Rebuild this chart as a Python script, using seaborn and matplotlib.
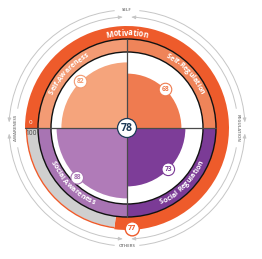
import numpy as np
import matplotlib
matplotlib.use("Agg")
import matplotlib.pyplot as plt
import seaborn as sns
from matplotlib.patches import Wedge, Circle, Arc
from matplotlib.font_manager import FontProperties, findfont
from matplotlib.ft2font import FT2Font

# ---------------- data ----------------
quadrants = ["Self-Awareness", "Self-Regulation", "Social Awareness", "Social Regulation"]
scores = [82, 68, 88, 73]
overall_score = 78
motivation_label = "Motivation"
motivation_score = 77
gauge_min_label = "0"
gauge_max_label = "100"
axis_labels = ["SELF", "REGULATION", "OTHERS", "AWARENESS"]

# ---------------- style ----------------
sns.set_theme(style="white")
plt.rcParams["font.family"] = ["Open Sans", "DejaVu Sans"]

wedge_colors = ["#F5A47C", "#EF7B50", "#B07BB8", "#7D3D98"]
band_colors = ["#F39B74", "#EF8459", "#A874B3", "#7B3B96"]
badge_text_colors = ["#F29A72", "#EE7A4E", "#A874B3", "#7B3B96"]
orange = "#EE5B2B"
grey = "#CFCFCF"
navy = "#1E3A56"
linec = "#4A4A4A"

W, H = 262, 259
DPI = 100
fig = plt.figure(figsize=(W / DPI, H / DPI), dpi=DPI)
ax = fig.add_axes([0, 0, 1, 1])
ax.set_xlim(0, W)
ax.set_ylim(0, H)
ax.set_aspect("equal")
ax.axis("off")

cx, cy = 127, 131
k = 0.8            # px per score point for inner wedges
r_ring_out, r_ring_in = 102, 89
r_band_in = 76

# gauge ring: starts at 9 o'clock, clockwise
end_angle = 180 - motivation_score * 3.6
ax.add_patch(Wedge((cx, cy), r_ring_out, end_angle, 180, width=r_ring_out - r_ring_in,
                   facecolor=orange, edgecolor="none"))
ax.add_patch(Wedge((cx, cy), r_ring_out - 2, 180, end_angle + 360,
                   width=r_ring_out - 2 - r_ring_in, facecolor=grey, edgecolor="none"))
ax.add_patch(Arc((cx, cy), 2 * (r_ring_out - 1.5), 2 * (r_ring_out - 1.5),
                 theta1=180, theta2=end_angle + 360, color=orange, lw=1.0))

# quadrant bands and wedges
spans = [(90, 180), (0, 90), (180, 270), (270, 360)]
for (t1, t2), bc, wc, s in zip(spans, band_colors, wedge_colors, scores):
    ax.add_patch(Wedge((cx, cy), r_ring_in, t1, t2, width=r_ring_in - r_band_in,
                       facecolor=bc, edgecolor="none"))
    ax.add_patch(Wedge((cx, cy), r_band_in, t1, t2, facecolor="white", edgecolor="none"))
    ax.add_patch(Wedge((cx, cy), s * k, t1, t2, facecolor=wc, edgecolor="none"))

for r in (r_ring_in, r_band_in):
    ax.add_patch(Circle((cx, cy), r, fill=False, edgecolor="#111111", lw=1.0))

# cross lines
ax.plot([cx - r_ring_out, cx + r_ring_in], [cy, cy], color=linec, lw=0.9, zorder=3)
ax.plot([cx, cx], [cy - r_ring_in, cy + r_ring_in], color=linec, lw=0.9, zorder=3)


# ---------------- curved text ----------------
def advances(text, fp):
    font = FT2Font(findfont(fp))
    font.set_size(fp.get_size_in_points(), DPI)
    out = []
    for ch in text:
        g = font.load_char(ord(ch))
        out.append(g.linearHoriAdvance / 65536.0)
    return out


def curved_text(text, r, center_deg, size, color, top=True, weight="bold", track=1.0):
    fp = FontProperties(family="Open Sans", weight=weight, size=size)
    widths = [w * track for w in advances(text, fp)]
    total = sum(widths) / r  # radians
    c = np.radians(center_deg)
    pos = 0.0
    for ch, w in zip(text, widths):
        mid = pos + w / 2
        if ch != " ":
            if top:
                a = c + total / 2 - mid / r
                rot = np.degrees(a) - 90
            else:
                a = c - total / 2 + mid / r
                rot = np.degrees(a) + 90
            ax.text(cx + r * np.cos(a), cy + r * np.sin(a), ch, rotation=rot,
                    rotation_mode="anchor", ha="center", va="center",
                    fontproperties=fp, color=color, zorder=6)
        pos += w


curved_text(motivation_label, (r_ring_out + r_ring_in) / 2 - 0.5, 90, 5.6, "white", top=True)
band_r = (r_ring_in + r_band_in) / 2
label_angles = [137, 43, 225, 315]
for lab, ang in zip(quadrants, label_angles):
    curved_text(lab, band_r - (0 if ang < 180 else 0.5), ang, 5.1, "white",
                top=ang < 180)

# gauge end labels
ax.text(cx - 97, cy + 5.5, gauge_min_label, color="white", fontsize=4.5,
        ha="center", va="center", zorder=6)
ax.text(cx - 96, cy - 5.5, gauge_max_label, color="#444444", fontsize=4.8,
        ha="center", va="center", zorder=6)

# value badges
for s, (t1, t2), tc in zip(scores, spans, badge_text_colors):
    a = np.radians((t1 + t2) / 2)
    x, y = cx + s * k * np.cos(a), cy + s * k * np.sin(a)
    ax.add_patch(Circle((x, y), 6.3, facecolor="white", edgecolor=tc, lw=0.8, zorder=7))
    ax.text(x, y, str(s), color=tc, fontsize=4.8, fontweight="bold",
            ha="center", va="center", zorder=8)

# overall badge
ax.add_patch(Circle((cx, cy), 9.5, facecolor="white", edgecolor=navy, lw=0.9, zorder=7))
ax.text(cx, cy - 0.3, str(overall_score), color=navy, fontsize=7.5, fontweight="bold",
        ha="center", va="center", zorder=8)

# motivation badge
ba = np.radians(-87)
bx, by = cx + 101 * np.cos(ba), cy + 101 * np.sin(ba)
ax.add_patch(Circle((bx, by), 7, facecolor="white", edgecolor=orange, lw=1.0, zorder=7))
ax.text(bx, by, str(motivation_score), color=orange, fontsize=5.2, fontweight="bold",
        ha="center", va="center", zorder=8)

# ---------------- outer guide arcs ----------------
arc_col = "#C6C6C6"
r_out, r_in = 118, 111


def arc_seg(r, t1, t2):
    ax.add_patch(Arc((cx, cy), 2 * r, 2 * r, theta1=t1, theta2=t2, color=arc_col, lw=0.7))


def arrow_at(r, ang_end, ang_from):
    a1, a0 = np.radians(ang_end), np.radians(ang_from)
    ax.annotate("", xy=(cx + r * np.cos(a1), cy + r * np.sin(a1)),
                xytext=(cx + r * np.cos(a0), cy + r * np.sin(a0)),
                arrowprops=dict(arrowstyle="-|>,head_length=0.5,head_width=0.25",
                                mutation_scale=4, color=arc_col, lw=0.7,
                                shrinkA=0, shrinkB=0))


# outer arc: label gaps at top/bottom, arrow gaps at sides
og, oa = 6, 3
for t1, t2 in [(oa, 90 - og), (90 + og, 180 - oa), (180 + oa, 270 - og), (270 + og, 360 - oa)]:
    arc_seg(r_out, t1, t2)
for e, f in [(oa, oa + 2), (180 - oa, 180 - oa - 2), (180 + oa, 180 + oa + 2), (360 - oa, 360 - oa - 2)]:
    arrow_at(r_out, e, f)
# inner arc: label gaps at sides, arrow gaps at top/bottom
ig, ia = 10, 2.5
for t1, t2 in [(ig, 90 - ia), (90 + ia, 180 - ig), (180 + ig, 270 - ia), (270 + ia, 360 - ig)]:
    arc_seg(r_in, t1, t2)
for e, f in [(90 - ia, 90 - ia - 2), (90 + ia, 90 + ia + 2), (270 - ia, 270 - ia - 2), (270 + ia, 270 + ia + 2)]:
    arrow_at(r_in, e, f)

lab_kw = dict(color="#8A8A8A", fontsize=3.2, ha="center", va="center", fontweight="bold")
ax.text(cx, cy + r_out, axis_labels[0], **lab_kw)
ax.text(cx, cy - r_out, axis_labels[2], **lab_kw)
ax.text(cx + r_in, cy, axis_labels[1], rotation=-90, **lab_kw)
ax.text(cx - r_in, cy, axis_labels[3], rotation=90, **lab_kw)

fig.savefig("out.png", dpi=DPI)
